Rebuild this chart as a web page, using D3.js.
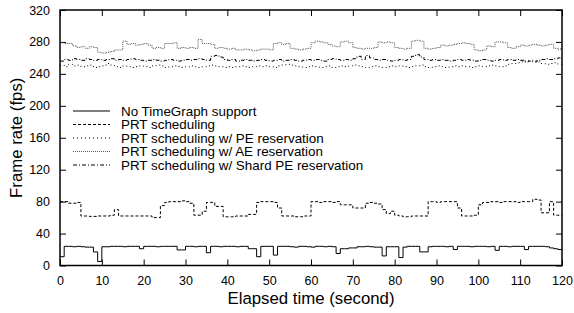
<!DOCTYPE html>
<html>
<head>
<meta charset="utf-8">
<script src="https://cdn.jsdelivr.net/npm/d3@7"></script>
<style>
  body { margin: 0; background: #fff; }
  text { font-family: "Liberation Sans", Arial, sans-serif; fill: #000; }
</style>
</head>
<body>
<div id="chart-container"></div>
<script>
// seconds 0..120, one sample per second (step plot)
const seriesNames = [
  "No TimeGraph support",
  "PRT scheduling",
  "PRT scheduling w/ PE reservation",
  "PRT scheduling w/ AE reservation",
  "PRT scheduling w/ Shard PE reservation"
];

const noTimeGraph = [
  11,24,24,23.5,24,23.5,23,23,17,5,
  23.5,23.5,24,24,24,23.5,24,24,24,21,
  24,24,24,23.5,24,24,24,24,19.5,19.5,
  24,24,23.5,24,24,16,24,24,23.5,24,
  24,24,23.5,24,24,21,21,11,24,24,
  24,13,24,24,24,23.5,23,24,24,23.5,
  23,24,24,23.5,24,23.5,15,21,21,22,
  22,23.5,23.5,24,23.5,23,23,12,23.5,23.5,
  23.5,10,23,24,24,24,17,17,23.5,24,
  24,24,23.5,24,20,24,24,24,23.5,24,
  24,24,23.5,24,19,24,24,23.5,24,24,
  24,20,24,24,24,24,23.5,22,21,20,
  19
];

const prtSched = [
  80,80,78,78,79,62,62,61.5,61.5,62,
  62,62,63,70,62,62,62,62,62,62,
  62,62,60,60,75,79,80,80,80,81,
  80,78,63,63,68,79,79,74,74,61,
  61,61,62,62,62,64,64,79,80,80,
  80,79,72,62,62,62,61,61,62,62,
  80,80,79,80,80,79,80,76,76,76,
  72,72,72,78,79,78,77,70,65,68,
  63,62,61,61,62,62,62,62,80,80,
  79,80,80,80,80,72,62,62,62,63,
  76,79,79,80,80,79,80,80,80,79,
  80,80,80,83,82,66,66,80,63,63,
  63
];

const prtPE = [
  251,249,252,250,251,249,250,251,248,249,
  250,253,251,249,248,250,249,248,249,250,
  249,248,250,251,250,248,249,250,249,248,
  249,250,249,248,249,250,251,250,249,248,
  249,248,249,250,249,248,249,250,249,250,
  249,248,250,251,252,251,250,249,248,249,
  250,249,248,249,250,248,249,250,249,250,
  251,250,249,248,249,250,249,248,249,250,
  249,250,249,248,249,250,251,249,248,249,
  250,249,248,249,250,249,250,249,248,249,
  250,249,250,251,250,249,250,252,253,254,
  255,256,257,256,255,253,252,253,254,252,
  251
];

const prtAE = [
  279,278,278,275,273,274,272,274,273,267,
  266,267,268,270,270,281,277,278,276,277,
  278,276,272,273,272,278,278,279,272,273,
  272,273,272,283,278,278,277,272,273,272,
  271,272,270,270,271,270,269,270,271,271,
  270,278,279,277,278,272,271,270,271,272,
  279,281,280,279,277,275,274,280,281,279,
  273,272,271,272,272,273,280,279,280,279,
  273,272,271,272,281,282,281,272,271,272,
  273,276,275,276,277,278,279,278,277,270,
  269,270,275,274,280,280,279,273,272,274,
  276,275,276,277,276,275,276,277,272,271,
  272
];

const prtShard = [
  256,258,257,259,258,257,259,258,257,258,
  257,258,259,257,258,257,258,259,258,257,
  256,257,258,257,256,257,258,257,256,257,
  258,257,258,259,258,257,262,263,261,258,
  257,258,256,257,258,257,256,257,258,257,
  256,257,258,256,257,258,257,256,257,258,
  257,258,257,256,258,259,258,257,258,257,
  259,262,258,263,260,258,257,258,257,256,
  257,258,257,258,262,264,261,258,257,258,
  257,258,257,256,257,258,257,258,257,256,
  257,258,257,256,257,258,257,258,257,258,
  257,255,256,255,257,258,259,258,259,260,
  259
];

const xTicks = [0,10,20,30,40,50,60,70,80,90,100,110,120];
const yTicks = [0,40,80,120,160,200,240,280,320];

const series = [
  { name: seriesNames[0], values: noTimeGraph, color: "#000", dash: null, width: 1 },
  { name: seriesNames[1], values: prtSched, color: "#000", dash: "3,2", width: 1 },
  { name: seriesNames[2], values: prtPE, color: "#000", dash: "1,3", width: 1 },
  { name: seriesNames[3], values: prtAE, color: "#555", dash: "1,1", width: 1 },
  { name: seriesNames[4], values: prtShard, color: "#000", dash: "4,2,1,2", width: 1 }
];

const width = 574, height = 313;
const plot = { left: 60, right: 562, top: 10, bottom: 265.5 };

const svg = d3.select("#chart-container")
  .append("svg")
  .attr("width", width)
  .attr("height", height);

const x = d3.scaleLinear().domain([0, 120]).range([plot.left, plot.right]);
const y = d3.scaleLinear().domain([0, 320]).range([plot.bottom, plot.top]);

const tickLen = 6;

// axes (gnuplot style, inward ticks, mirrored)
svg.append("g")
  .attr("transform", `translate(0,${plot.bottom})`)
  .call(d3.axisBottom(x).tickValues(xTicks).tickSize(-tickLen).tickPadding(9))
  .call(g => g.select(".domain").remove())
  .call(g => g.selectAll("text").attr("font-size", 12.5).attr("dy", "0.8em"));

svg.append("g")
  .attr("transform", `translate(0,${plot.top})`)
  .call(d3.axisTop(x).tickValues(xTicks).tickSize(-tickLen).tickFormat(""))
  .call(g => g.select(".domain").remove());

svg.append("g")
  .attr("transform", `translate(${plot.left},0)`)
  .call(d3.axisLeft(y).tickValues(yTicks).tickSize(-tickLen).tickPadding(10))
  .call(g => g.select(".domain").remove())
  .call(g => g.selectAll("text").attr("font-size", 12.5));

svg.append("g")
  .attr("transform", `translate(${plot.right},0)`)
  .call(d3.axisRight(y).tickValues(yTicks).tickSize(-tickLen).tickFormat(""))
  .call(g => g.select(".domain").remove());

svg.selectAll(".tick line").attr("stroke", "#000").attr("stroke-width", 1);

// lines
const line = d3.line()
  .x((d, i) => x(i))
  .y(d => y(d))
  .curve(d3.curveStepAfter);

svg.append("g")
  .selectAll("path")
  .data(series)
  .enter()
  .append("path")
  .attr("d", d => line(d.values))
  .attr("fill", "none")
  .attr("stroke", d => d.color)
  .attr("stroke-width", d => d.width)
  .attr("stroke-dasharray", d => d.dash);

// frame
svg.append("rect")
  .attr("x", plot.left)
  .attr("y", plot.top)
  .attr("width", plot.right - plot.left)
  .attr("height", plot.bottom - plot.top)
  .attr("fill", "none")
  .attr("stroke", "#000")
  .attr("stroke-width", 1.5);

// legend
const legend = svg.append("g");
const rowY = i => 111 + i * 13.5;
series.forEach((s, i) => {
  legend.append("line")
    .attr("x1", 73).attr("x2", 110)
    .attr("y1", rowY(i)).attr("y2", rowY(i))
    .attr("stroke", s.color)
    .attr("stroke-width", s.width)
    .attr("stroke-dasharray", s.dash);
  legend.append("text")
    .attr("x", 121)
    .attr("y", rowY(i))
    .attr("dy", "0.35em")
    .attr("font-size", 13.4)
    .text(s.name);
});

// axis titles
svg.append("text")
  .attr("x", (plot.left + plot.right) / 2)
  .attr("y", 304)
  .attr("text-anchor", "middle")
  .attr("font-size", 16.8)
  .text("Elapsed time (second)");

svg.append("text")
  .attr("transform", `translate(22,${(plot.top + plot.bottom) / 2}) rotate(-90)`)
  .attr("text-anchor", "middle")
  .attr("font-size", 16.8)
  .text("Frame rate (fps)");
</script>
</body>
</html>
